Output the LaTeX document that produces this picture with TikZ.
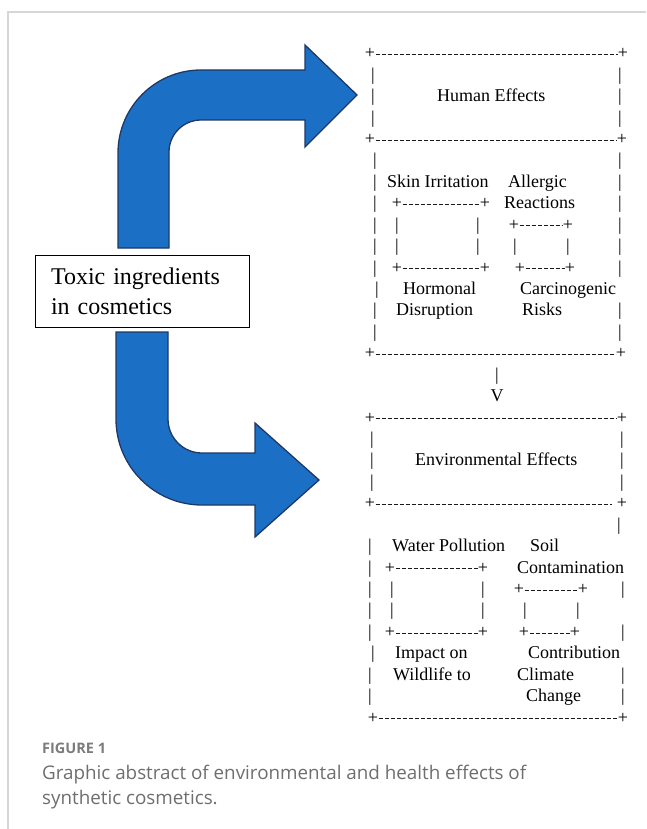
\documentclass[tikz,border=0pt]{standalone}
\usepackage{fontspec}
\setmainfont{Liberation Serif}
\newfontfamily\capfont{Open Sans}
\usepackage{tikz}
\definecolor{arrowfill}{HTML}{1B70C6}
\definecolor{arrowline}{HTML}{1F3864}
\definecolor{frameline}{HTML}{D6D6D6}
\definecolor{captext}{HTML}{6E6E6E}
\tikzset{
  glyph/.style={anchor=base, inner sep=0pt, font=\fontsize{18}{21}\selectfont},
  word/.style={glyph, anchor=base west},
  dashrule/.style={black!90, line width=1pt, dash pattern=on 4.6pt off 1.4pt, yshift=4.4pt},
  bigarrow/.style={fill=arrowfill, draw=arrowline, line width=1.3pt, line join=miter},
  toxbox/.style={draw, fill=white, line width=0.8pt, text width=182pt, inner xsep=16pt,
    minimum height=72pt, align=left, font=\fontsize{24}{30}\selectfont},
  capfig/.style={anchor=base west, inner sep=0pt, text=captext!90, font=\capfont\bfseries\fontsize{14.5}{17}\selectfont},
  captxt/.style={anchor=base west, inner sep=0pt, text=captext, font=\capfont\fontsize{18.8}{25}\selectfont},
}
\newcommand{\bars}[2]{%
  \foreach \rw in {#2} {%
    \node[glyph] (bar-#1-\rw) at (#1,\rw) {|};
  }}
\newcommand{\dashrow}[3]{%
  \node[glyph] (pl-#1-#2) at (#2,#1) {+};
  \node[glyph] (pr-#1-#3) at (#3,#1) {+};
  \draw[dashrule] (#2+5.5,#1) -- (#3-5.5,#1);}
\newcommand{\word}[3]{\node[word] (w-#1-#2) at (#2,#1) {#3};}

\begin{document}
\begin{tikzpicture}[x=1pt,y=1pt]
  \useasboundingbox (0,0) rectangle (646,-829);
  \draw[frameline, line width=1.2pt] (8,-829) -- (8,-12) -- (646,-12);

  % the two bent arrows
  \draw[bigarrow] (118,-248) -- (118,-153) arc[start angle=180, end angle=90, radius=83]
    -- (305,-70) -- (305,-45) -- (357,-95) -- (305,-147) -- (305,-120) -- (201,-120)
    arc[start angle=90, end angle=180, radius=32] -- (169,-248) -- cycle;
  \draw[bigarrow] (116,-332) -- (116,-419) arc[start angle=180, end angle=270, radius=86]
    -- (255,-505) -- (255,-537) -- (319,-480) -- (255,-423) -- (255,-453) -- (202,-453)
    arc[start angle=270, end angle=180, radius=34] -- (168,-332) -- cycle;
  \node[toxbox] (tox) at (142,-291) {Toxic ingredients\\in cosmetics};

  \begin{scope}[yshift=-58.8pt, y=-21.43pt]
    % human effects
    \dashrow{0}{370}{623}
    \bars{373}{1,2,3}
    \bars{620}{1,2,3,5,6,7,8,9,10,12,13}
    \word{2}{437}{Human Effects}
    \dashrow{4}{370}{622}
    \bars{375}{5,6,7,8,9,10,12,13}
    \bars{377}{11}
    \word{6}{387}{Skin Irritation}
    \word{6}{508}{Allergic}
    \dashrow{7}{397}{485}
    \word{7}{504}{Reactions}
    \dashrow{8}{514}{568}
    \bars{397}{8,9}
    \bars{478}{8,9}
    \bars{515}{9}
    \bars{568}{9}
    \dashrow{10}{397}{485}
    \dashrow{10}{520}{570}
    \word{11}{403}{Hormonal}
    \word{11}{520}{Carcinogenic}
    \word{12}{396}{Disruption}
    \word{12}{522}{Risks}
    \dashrow{14}{370}{621}
    \bars{497}{15}
    \node[glyph] (vee) at (497,16) {V};

    % environmental effects
    \dashrow{17}{370}{622}
    \bars{372}{18,19,20}
    \bars{622}{18,19,20}
    \word{19}{415}{Environmental Effects}
    \node[glyph] (pl-21) at (370,21) {+};
    \draw[dashrule] (375.5,21) -- (612,21);
    \node[glyph] (pr-21) at (622,21) {+};
    \bars{619}{22}
    \bars{370}{23,24,25,26,27,29,30}
    \bars{373}{28}
    \bars{623}{25,27,29,30}
    \word{23}{392}{Water Pollution}
    \word{23}{530}{Soil}
    \dashrow{24}{390}{483}
    \word{24}{517}{Contamination}
    \dashrow{25}{519}{583}
    \bars{392}{25,26}
    \bars{483}{25,26}
    \bars{525}{26}
    \bars{578}{26}
    \dashrow{27}{390}{483}
    \dashrow{27}{524}{575}
    \word{28}{395}{Impact on}
    \word{28}{528}{Contribution}
    \word{29}{393}{Wildlife to}
    \word{29}{517}{Climate}
    \word{30}{526}{Change}
    \dashrow{31}{373}{623}
  \end{scope}

  \node[capfig] (figno) at (42,-753) {FIGURE 1};
  \node[captxt] (cap1) at (42,-779) {Graphic abstract of environmental and health effects of};
  \node[captxt] (cap2) at (42,-804) {synthetic cosmetics.};
\end{tikzpicture}
\end{document}
